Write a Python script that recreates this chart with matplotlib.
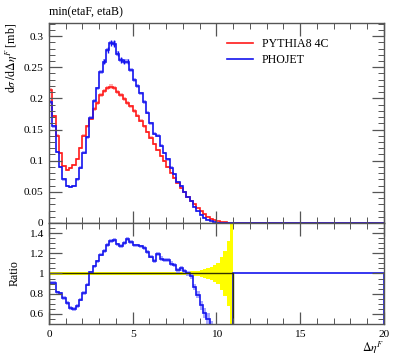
import numpy as np
import matplotlib
matplotlib.use("Agg")
import matplotlib.pyplot as plt
from matplotlib.ticker import MultipleLocator

plt.rcParams["font.family"] = ["Liberation Serif", "DejaVu Serif"]
plt.rcParams["mathtext.fontset"] = "stix"
plt.rcParams["font.size"] = 8.6

# bins of 0.2 in delta eta from 0 to 20, values given up to 11
EDGES = np.linspace(0, 20, 101)

pythia = [0.213, 0.171, 0.140, 0.112, 0.092, 0.085, 0.088, 0.093, 0.103, 0.120,
          0.140, 0.155, 0.167, 0.183, 0.193, 0.205, 0.212, 0.217, 0.219, 0.216,
          0.211, 0.206, 0.199, 0.193, 0.187, 0.180, 0.172, 0.164, 0.155, 0.146,
          0.137, 0.127, 0.117, 0.108, 0.099, 0.090, 0.081, 0.072, 0.064, 0.056,
          0.049, 0.042, 0.036, 0.030, 0.024, 0.019, 0.014, 0.010, 0.007, 0.0045,
          0.0028, 0.0015, 0.0008, 0.0004, 0.0002]
pythia_err = [0.0032, 0.0026, 0.0021, 0.0017, 0.0014, 0.0013, 0.0013, 0.0014, 0.0015, 0.0018,
              0.0021, 0.0023, 0.0025, 0.0027, 0.0029, 0.0031, 0.0032, 0.0033, 0.0033, 0.0032,
              0.0032, 0.0031, 0.0030, 0.0029, 0.0028, 0.0027, 0.0026, 0.0025, 0.0023, 0.0022,
              0.0021, 0.0019, 0.0018, 0.0016, 0.0015, 0.0014, 0.0012, 0.0011, 0.0010, 0.0009,
              0.0009, 0.00085, 0.0008, 0.00075, 0.0007, 0.00067, 0.0006, 0.0005, 0.00045, 0.00036,
              0.0003, 0.00024, 0.00018, 0.00013, 0.0002]

phojet = [0.194, 0.155, 0.114, 0.090, 0.070, 0.060, 0.058, 0.060, 0.070, 0.089,
          0.113, 0.138, 0.169, 0.196, 0.216, 0.243, 0.259, 0.278, 0.289, 0.288,
          0.272, 0.262, 0.259, 0.259, 0.245, 0.230, 0.220, 0.208, 0.194, 0.177,
          0.160, 0.143, 0.140, 0.124, 0.112, 0.102, 0.089, 0.078, 0.066, 0.059,
          0.050, 0.042, 0.035, 0.026, 0.019, 0.013, 0.0085, 0.0055, 0.0032, 0.0016,
          0.0007, 0.0002, 0.0, 0.0, 0.0]
phojet_err = [0.0028, 0.0025, 0.0022, 0.002, 0.0018, 0.0016, 0.0016, 0.0017, 0.0018, 0.002,
              0.0022, 0.0024, 0.0026, 0.0029, 0.003, 0.0032, 0.0034, 0.0036, 0.0038, 0.0038,
              0.0036, 0.0035, 0.0035, 0.0034, 0.0033, 0.0031, 0.003, 0.0029, 0.0028, 0.0026,
              0.0025, 0.0024, 0.0023, 0.0022, 0.002, 0.0019, 0.0018, 0.0016, 0.0015, 0.0014,
              0.0013, 0.0012, 0.0011, 0.001, 0.0009, 0.0008, 0.0007, 0.0006, 0.0005, 0.0004,
              0.0003, 0.0002, 0.0, 0.0, 0.0]

RED = "#ff1a1a"
BLUE = "#1414ee"
AXCOL = "#555555"


def pad(vals):
    out = np.zeros(len(EDGES) - 1)
    out[:len(vals)] = vals
    return out


def style(ax, minor_y):
    ax.set_xlim(0, 20)
    ax.xaxis.set_major_locator(MultipleLocator(5))
    ax.xaxis.set_minor_locator(MultipleLocator(1))
    ax.yaxis.set_minor_locator(MultipleLocator(minor_y))
    ax.tick_params(which="both", direction="in", top=True, right=True, color=AXCOL,
                   pad=4, labelsize=8.2)
    ax.tick_params(which="major", length=9, width=0.9)
    ax.tick_params(which="minor", length=4.5, width=0.7)
    for s in ax.spines.values():
        s.set_color(AXCOL)
        s.set_linewidth(1.0)


red = pad(pythia)
red_err = pad(pythia_err)
blue = pad(phojet)
blue_err = pad(phojet_err)
centers = 0.5 * (EDGES[1:] + EDGES[:-1])

fig = plt.figure(figsize=(3.97, 3.58), dpi=100)
ax = fig.add_axes([0.1234, 0.3771, 0.8438, 0.5587])
rax = fig.add_axes([0.1234, 0.0950, 0.8438, 0.2821])

# main panel
ax.stairs(red + red_err, EDGES, baseline=red - red_err, fill=True, color="#ffb0b0", lw=0)
ax.stairs(blue + blue_err, EDGES, baseline=blue - blue_err, fill=True, color="#a8a8ff", lw=0)
ax.stairs(red, EDGES, color=RED, lw=1.2, label="PYTHIA8 4C")
ax.stairs(blue, EDGES, color=BLUE, lw=1.2, label="PHOJET")
m = blue_err > 0.0033
ax.errorbar(centers[m], blue[m], yerr=blue_err[m] * 1.3, fmt="none", ecolor=BLUE, elinewidth=1.0)
ax.set_ylim(0, 0.321)
style(ax, 0.01)
ax.set_yticks([0, 0.05, 0.1, 0.15, 0.2, 0.25, 0.3])
ax.set_yticklabels(["0", "0.05", "0.1", "0.15", "0.2", "0.25", "0.3"])
ax.tick_params(labelbottom=False)
ax.set_ylabel(r"$\mathrm{d}\sigma\,/\mathrm{d}\Delta\eta^F$ [mb]", loc="top", labelpad=3)
ax.legend(loc="upper left", bbox_to_anchor=(0.517, 0.948), frameon=False,
          handlelength=2.2, handletextpad=0.7, labelspacing=0.3, borderaxespad=0)
fig.text(0.1234, 0.966, "min(etaF, etaB)", ha="left", va="center")

# ratio panel
has_ref = red > 0
safe = np.where(has_ref, red, 1.0)
rel = np.where(has_ref, red_err / safe, 0.0)
ratio_ref = np.where(has_ref, 1.0, 0.0)
ratio_blue = np.where(has_ref, blue / safe, 1.0)
ratio_blue_err = np.where(has_ref, blue_err / safe, 0.0)

rax.stairs(np.where(has_ref, 1 + rel, 1.0), EDGES,
           baseline=np.where(has_ref, 1 - rel, 1.0), fill=True, color="#ffff00", lw=0)
rax.stairs(ratio_blue + ratio_blue_err, EDGES, baseline=ratio_blue - ratio_blue_err,
           fill=True, color="#a8a8ff", lw=0)
rax.stairs(ratio_blue, EDGES, color=BLUE, lw=1.2)
rax.stairs(ratio_ref, EDGES, color="#333300", lw=1.0)
rax.set_ylim(0.5, 1.5)
style(rax, 0.05)
rax.set_yticks([0.6, 0.8, 1.0, 1.2, 1.4])
rax.set_yticklabels(["0.6", "0.8", "1", "1.2", "1.4"])
rax.set_ylabel("Ratio", labelpad=6)
rax.set_xlabel(r"$\Delta\eta^F$", loc="right")
rax.xaxis.set_label_coords(1.0, -0.145)

fig.savefig("out.png", dpi=100)
